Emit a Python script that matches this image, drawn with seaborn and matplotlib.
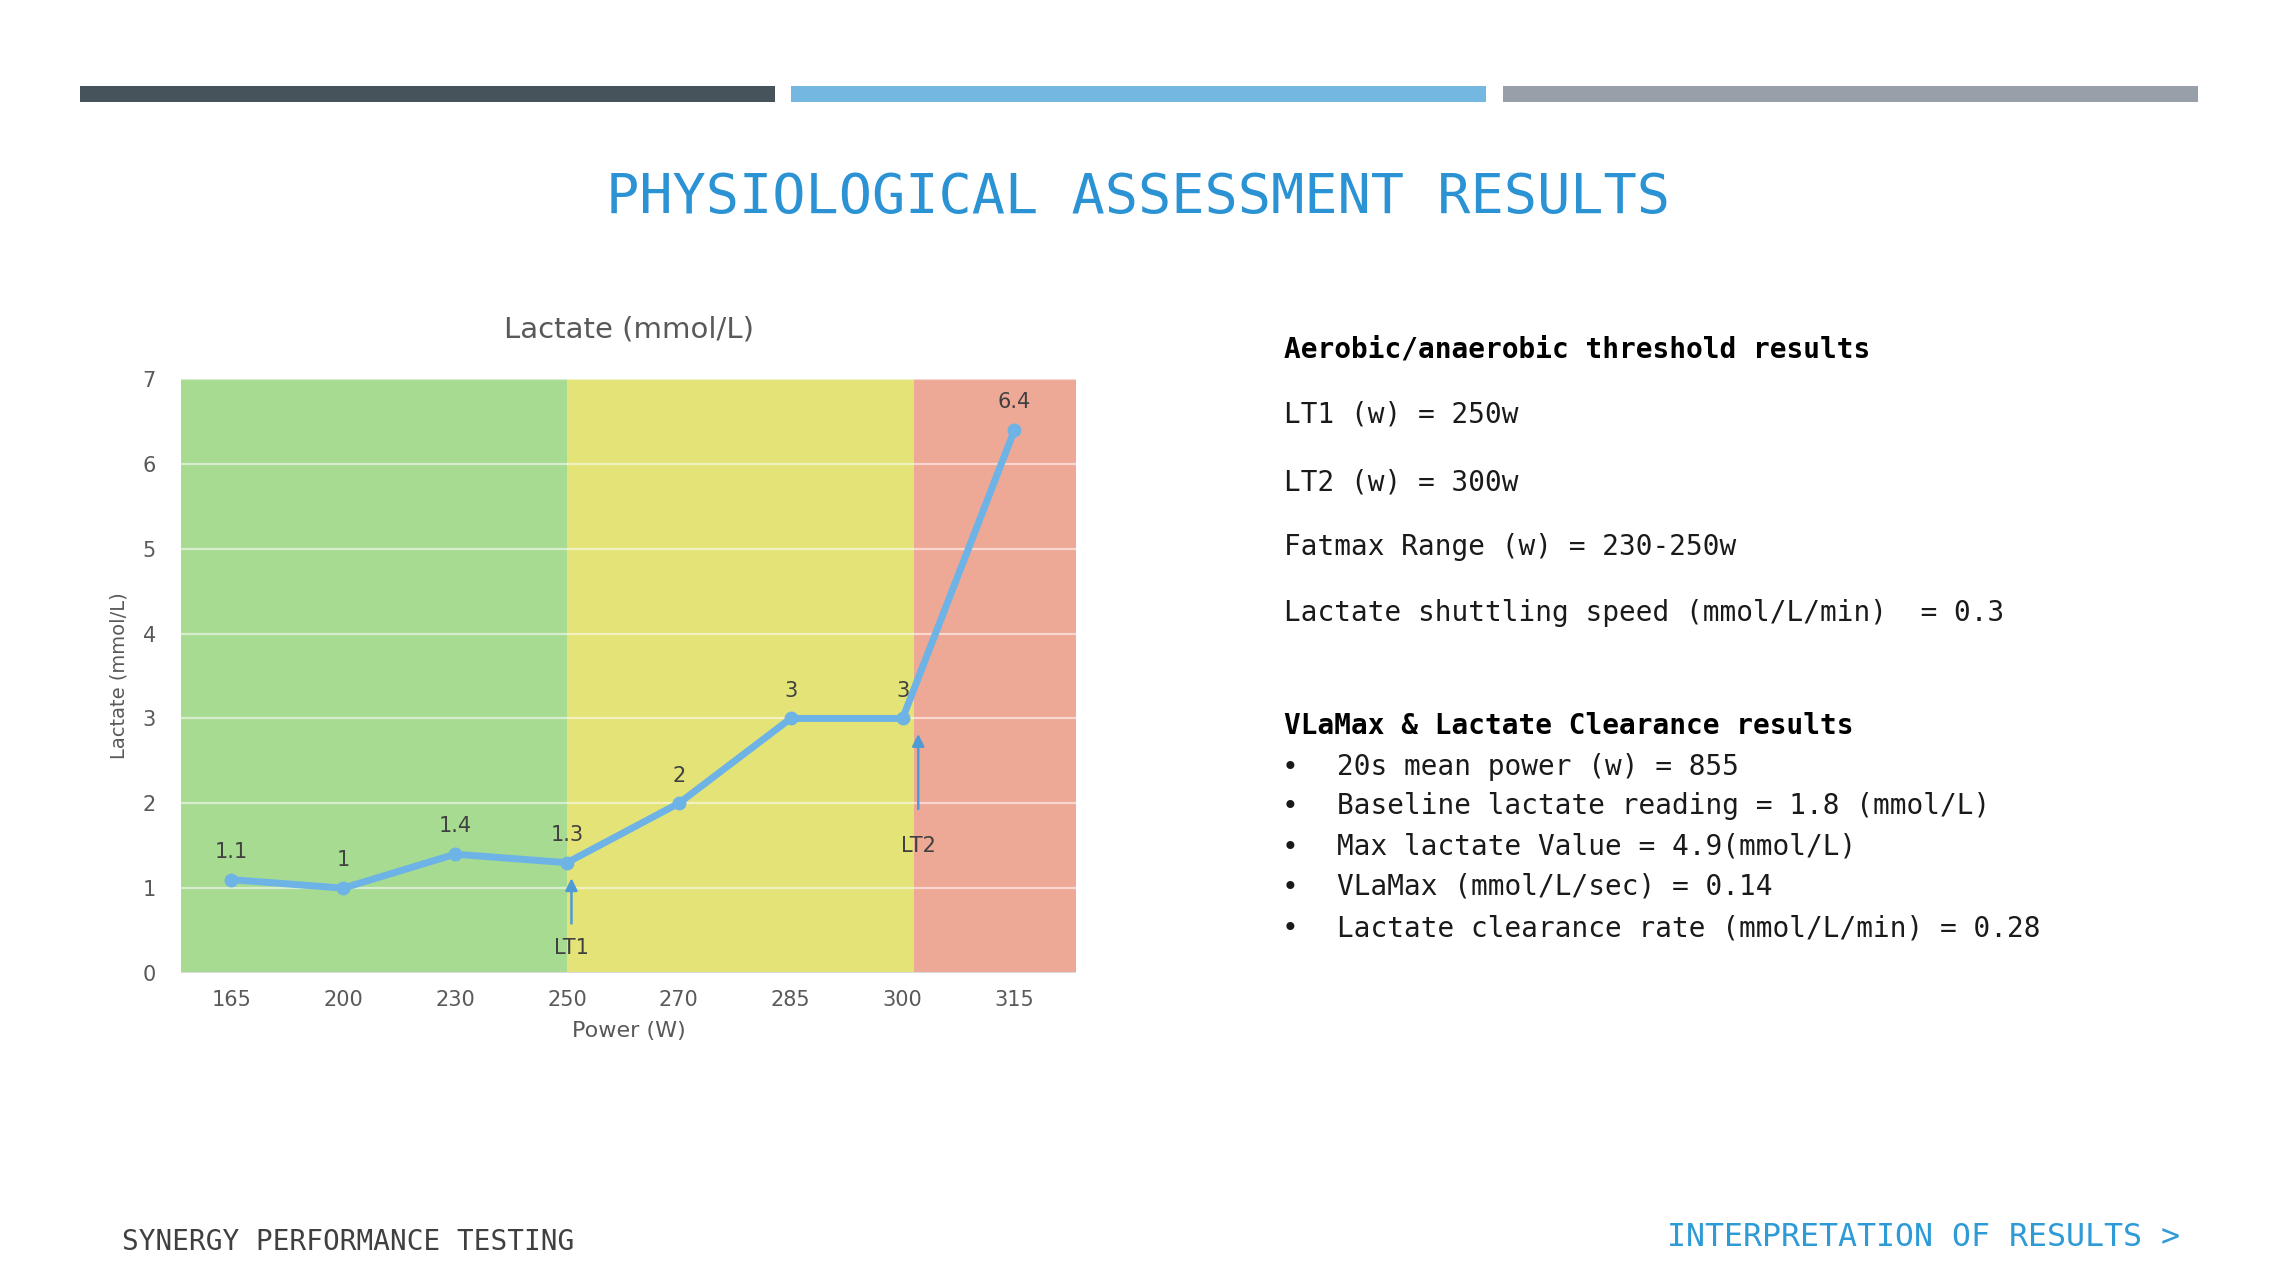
import matplotlib
matplotlib.use("Agg")
import matplotlib.pyplot as plt
import seaborn as sns
import pandas as pd

# data
power = ["165", "200", "230", "250", "270", "285", "300", "315"]
lactate = [1.1, 1.0, 1.4, 1.3, 2.0, 3.0, 3.0, 6.4]
point_labels = ["1.1", "1", "1.4", "1.3", "2", "3", "3", "6.4"]
y_ticks = [0, 1, 2, 3, 4, 5, 6, 7]

# zones in category units (LT1 at 250, LT2 just after 300)
zone_starts = [-0.45, 3.0, 6.1]
zone_ends = [3.0, 6.1, 7.55]
zone_colors = ["#A6DB91", "#E4E378", "#EEA896"]

# threshold markers: label, x (category units), arrow tail, arrow head, label y
thresholds = [("LT1", 3.04, 0.55, 1.15, 0.30), ("LT2", 6.14, 1.90, 2.85, 1.50)]

threshold_lines = ["LT1 (w) = 250w", "LT2 (w) = 300w", "Fatmax Range (w) = 230-250w",
                   "Lactate shuttling speed (mmol/L/min)  = 0.3"]
vlamax_lines = ["20s mean power (w) = 855", "Baseline lactate reading = 1.8 (mmol/L)",
                "Max lactate Value = 4.9(mmol/L)", "VLaMax (mmol/L/sec) = 0.14",
                "Lactate clearance rate (mmol/L/min) = 0.28"]

df = pd.DataFrame({"power": power, "lactate": lactate})

sns.set_theme(style="white")
narrow = ["Liberation Sans Narrow", "DejaVu Sans"]
mono = ["DejaVu Sans Mono"]
plt.rcParams["font.family"] = narrow

W, H = 2277, 1279
fig = plt.figure(figsize=(W / 100, H / 100), dpi=100)
fig.patch.set_facecolor("white")


def fx(px):
    return px / W


def fy(py):
    return 1 - py / H


# header bars
bar_colors = ["#47535A", "#74B8E2", "#97A0A8"]
bar_lefts = [80, 791, 1503]
for left, c in zip(bar_lefts, bar_colors):
    fig.add_artist(plt.Rectangle((fx(left), fy(102)), fx(695), 16 / H, color=c,
                                 transform=fig.transFigure, lw=0))

fig.text(0.5, fy(198), "PHYSIOLOGICAL ASSESSMENT RESULTS", family=mono, fontsize=39.8,
         color="#2B93D3", ha="center", va="center")

# chart
ax = fig.add_axes([fx(181), fy(973), fx(1076 - 181), (973 - 379) / H])
for s, e, c in zip(zone_starts, zone_ends, zone_colors):
    ax.axvspan(s, e, color=c, lw=0, zorder=0)
for t in y_ticks[1:]:
    ax.axhline(t, color="white", alpha=0.55, lw=1.6, zorder=1)
ax.axhline(0, color="#D9D9D9", lw=1.5, zorder=1)

sns.lineplot(data=df, x="power", y="lactate", ax=ax, color="#6DB3E6", lw=5,
             marker="o", markersize=10, markeredgewidth=0, sort=False, zorder=3)

for i, (v, lab) in enumerate(zip(lactate, point_labels)):
    ax.annotate(lab, (i, v), xytext=(0, 20), textcoords="offset points", ha="center",
                va="center", fontsize=15, color="#404040")

for name, x, y0, y1, ly in thresholds:
    ax.annotate("", xy=(x, y1), xytext=(x, y0),
                arrowprops=dict(arrowstyle="-|>", color="#4E9BD6", lw=1.8,
                                mutation_scale=18), zorder=4)
    ax.text(x, ly, name, ha="center", va="center", fontsize=15, color="#404040")

ax.set_xlim(-0.45, 7.55)
ax.set_ylim(0, 7)
ax.set_yticks(y_ticks)
ax.tick_params(axis="both", length=0, labelsize=15, labelcolor="#595959")
ax.tick_params(axis="y", pad=18)
ax.tick_params(axis="x", pad=12)
for sp in ax.spines.values():
    sp.set_visible(False)
ax.set_xlabel("Power (W)", fontsize=16, color="#595959", labelpad=8)
ax.set_ylabel("Lactate (mmol/L)", fontsize=14, color="#595959", family=["DejaVu Sans"],
              labelpad=10)
ax.set_title("Lactate (mmol/L)", fontsize=21, color="#595959", pad=30)

# right text panel
fig.text(fx(1284), fy(349), "Aerobic/anaerobic threshold results", family=mono,
         fontsize=20, weight="bold", color="black", va="center")
for txt, py in zip(threshold_lines, [415, 482, 547, 613]):
    fig.text(fx(1284), fy(py), txt, family=mono, fontsize=20, color="#1A1A1A", va="center")

fig.text(fx(1284), fy(726), "VLaMax & Lactate Clearance results", family=mono,
         fontsize=20, weight="bold", color="black", va="center")
for txt, py in zip(vlamax_lines, [767, 806, 847, 887, 928]):
    fig.text(fx(1290), fy(py), "\u2022", family=mono, fontsize=20, color="#1A1A1A",
             ha="center", va="center")
    fig.text(fx(1337), fy(py), txt, family=mono, fontsize=20, color="#1A1A1A", va="center")

# footer
fig.text(fx(122), fy(1242), "SYNERGY PERFORMANCE TESTING", family=mono, fontsize=20,
         color="#404040", va="center")
fig.text(fx(2180), fy(1238), "INTERPRETATION OF RESULTS >", family=mono, fontsize=22.8,
         color="#2E9AD6", ha="right", va="center")

fig.savefig("out.png", dpi=100, facecolor="white")
